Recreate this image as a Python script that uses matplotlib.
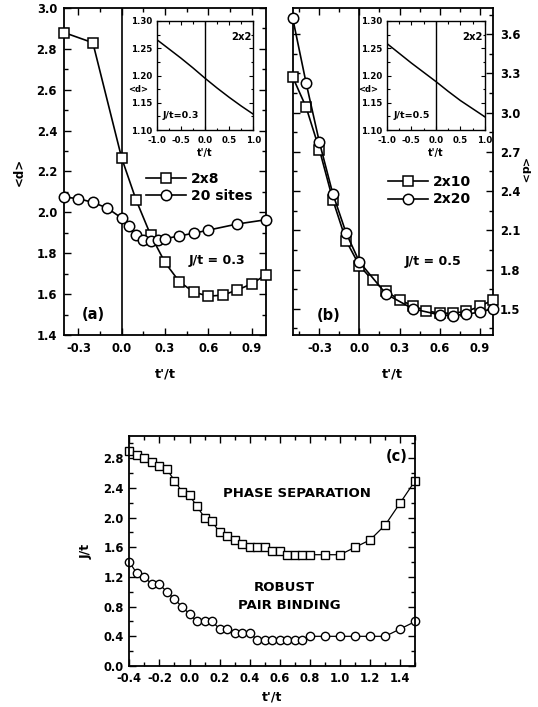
import matplotlib
matplotlib.use('Agg')
import matplotlib.pyplot as plt
from matplotlib.ticker import MultipleLocator, FuncFormatter, FixedLocator

plt.rcParams['font.family'] = ['DejaVu Sans']
plt.rcParams['font.weight'] = 'bold'
plt.rcParams['axes.labelweight'] = 'bold'

# ---------------- data ----------------
# panel (a)
a_sq_x = [-0.4, -0.2, 0.0, 0.1, 0.2, 0.3, 0.4, 0.5, 0.6, 0.7, 0.8, 0.9, 1.0]
a_sq_y = [2.88, 2.83, 2.265, 2.06, 1.89, 1.755, 1.66, 1.61, 1.59, 1.595, 1.62, 1.65, 1.695]
a_ci_x = [-0.4, -0.3, -0.2, -0.1, 0.0, 0.05, 0.1, 0.15, 0.2, 0.25, 0.3, 0.4, 0.5, 0.6, 0.8, 1.0]
a_ci_y = [2.075, 2.067, 2.049, 2.021, 1.972, 1.931, 1.887, 1.866, 1.862, 1.866, 1.871,
          1.885, 1.898, 1.913, 1.943, 1.964]
a_labels = ["2x8", "20 sites"]

# panel (b)
b_sq_x = [-0.5, -0.4, -0.3, -0.2, -0.1, 0.0, 0.1, 0.2, 0.3, 0.4, 0.5, 0.6, 0.7, 0.8, 0.9, 1.0]
b_sq_y = [3.272, 3.043, 2.718, 2.335, 2.021, 1.83, 1.717, 1.633, 1.569, 1.523, 1.485,
          1.467, 1.467, 1.48, 1.518, 1.569]
b_ci_x = [-0.5, -0.4, -0.3, -0.2, -0.1, 0.0, 0.2, 0.4, 0.6, 0.7, 0.8, 0.9, 1.0]
b_ci_y = [3.722, 3.229, 2.774, 2.381, 2.08, 1.858, 1.613, 1.5, 1.454, 1.449, 1.459, 1.475, 1.5]
b_labels = ["2x10", "2x20"]

# insets (2x2)
ins_x = [-1.0, -0.75, -0.5, -0.25, 0.0, 0.25, 0.5, 0.75, 1.0]
ins_a_y = [1.266, 1.249, 1.232, 1.214, 1.195, 1.177, 1.160, 1.144, 1.129]
ins_b_y = [1.259, 1.241, 1.223, 1.206, 1.189, 1.171, 1.154, 1.139, 1.124]

# panel (c)
c_ps_x = [-0.4, -0.35, -0.3, -0.25, -0.2, -0.15, -0.1, -0.05, 0.0, 0.05, 0.1, 0.15, 0.2, 0.25,
          0.3, 0.35, 0.4, 0.45, 0.5, 0.55, 0.6, 0.65, 0.7, 0.75, 0.8, 0.9, 1.0, 1.1, 1.2,
          1.3, 1.4, 1.5]
c_ps_y = [2.9, 2.85, 2.8, 2.75, 2.7, 2.65, 2.5, 2.35, 2.3, 2.15, 2.0, 1.95, 1.8, 1.75,
          1.7, 1.65, 1.6, 1.6, 1.6, 1.55, 1.55, 1.5, 1.5, 1.5, 1.5, 1.5, 1.5, 1.6, 1.7,
          1.9, 2.2, 2.5]
c_pb_x = [-0.4, -0.35, -0.3, -0.25, -0.2, -0.15, -0.1, -0.05, 0.0, 0.05, 0.1, 0.15, 0.2, 0.25,
          0.3, 0.35, 0.4, 0.45, 0.5, 0.55, 0.6, 0.65, 0.7, 0.75, 0.8, 0.9, 1.0, 1.1, 1.2,
          1.3, 1.4, 1.5]
c_pb_y = [1.4, 1.25, 1.2, 1.1, 1.1, 1.0, 0.9, 0.8, 0.7, 0.6, 0.6, 0.6, 0.5, 0.5,
          0.45, 0.45, 0.45, 0.35, 0.35, 0.35, 0.35, 0.35, 0.35, 0.35, 0.4, 0.4, 0.4, 0.4, 0.4,
          0.4, 0.5, 0.6]

# ---------------- figure ----------------
W, H = 538, 707
fig = plt.figure(figsize=(W / 100, H / 100), dpi=100)


def box(l, t, r, b):
    return [l / W, 1 - b / H, (r - l) / W, (b - t) / H]


def fmt(nd):
    def f(v, p):
        s = f"{v:.{nd}f}"
        if s.startswith('-') and float(s) == 0:
            s = s[1:]
        return s
    return FuncFormatter(f)


TICK = 8.3
LW = 1.2
MS = 7


def style_main(ax):
    ax.tick_params(which='both', direction='in', top=True, right=True, width=1.0,
                   labelsize=TICK, pad=5)
    ax.tick_params(which='major', length=5)
    ax.tick_params(which='minor', length=3)
    for s in ax.spines.values():
        s.set_linewidth(1.3)


# ---- panel (a)
axa = fig.add_axes(box(64, 8, 266, 335))
axa.plot(a_sq_x, a_sq_y, '-', color='black', lw=LW, marker='s', ms=MS,
         mfc='white', mec='black', mew=1.1, label=a_labels[0], zorder=3, clip_on=False)
axa.plot(a_ci_x, a_ci_y, '-', color='black', lw=LW, marker='o', ms=MS + 0.5,
         mfc='white', mec='black', mew=1.1, label=a_labels[1], zorder=3, clip_on=False)
axa.axvline(0.0, color='black', lw=1.2, zorder=1)
axa.set_xlim(-0.4, 1.0)
axa.set_ylim(1.4, 3.0)
axa.xaxis.set_major_locator(FixedLocator([-0.3, 0.0, 0.3, 0.6, 0.9]))
axa.xaxis.set_minor_locator(FixedLocator([-0.15, 0.15, 0.45, 0.75]))
axa.yaxis.set_major_locator(MultipleLocator(0.2))
axa.yaxis.set_minor_locator(MultipleLocator(0.1))
axa.xaxis.set_major_formatter(fmt(1))
axa.yaxis.set_major_formatter(fmt(1))
style_main(axa)
axa.set_xlabel("t'/t", fontsize=9.3, fontweight='bold', labelpad=9)
axa.set_ylabel("<d>", fontsize=8.5, fontweight='bold', labelpad=8)
axa.text(0.66, 1.764, "J/t = 0.3", fontsize=9, fontweight='bold', ha='center', va='center')
axa.text(-0.196, 1.498, "(a)", fontsize=10.5, fontweight='bold', ha='center', va='center')
axa.legend(loc='upper left', bbox_to_anchor=(146 / W, 1 - 172 / H),
           bbox_transform=fig.transFigure, frameon=False,
           handlelength=2.9, handletextpad=0.35, labelspacing=0.2,
           borderpad=0, borderaxespad=0, prop={'weight': 'bold', 'size': 10})

# ---- panel (b)
axb = fig.add_axes(box(292.7, 8, 493, 335))
axb.plot(b_sq_x, b_sq_y, '-', color='black', lw=LW, marker='s', ms=MS,
         mfc='white', mec='black', mew=1.1, label=b_labels[0], zorder=3, clip_on=False)
axb.plot(b_ci_x, b_ci_y, '-', color='black', lw=LW, marker='o', ms=MS + 0.5,
         mfc='white', mec='black', mew=1.1, label=b_labels[1], zorder=4, clip_on=False)
axb.axvline(0.0, color='black', lw=1.2, zorder=1)
axb.set_xlim(-0.5, 1.0)
axb.set_ylim(1.3, 3.8)
axb.xaxis.set_major_locator(FixedLocator([-0.3, 0.0, 0.3, 0.6, 0.9]))
axb.xaxis.set_minor_locator(FixedLocator([-0.45, -0.15, 0.15, 0.45, 0.75]))
axb.yaxis.set_major_locator(FixedLocator([1.5, 1.8, 2.1, 2.4, 2.7, 3.0, 3.3, 3.6]))
axb.yaxis.set_minor_locator(FixedLocator([1.35, 1.65, 1.95, 2.25, 2.55, 2.85, 3.15, 3.45, 3.75]))
axb.xaxis.set_major_formatter(fmt(1))
axb.yaxis.set_major_formatter(fmt(1))
style_main(axb)
axb.tick_params(labelleft=False, labelright=True)
axb.yaxis.set_label_position('right')
axb.set_xlabel("t'/t", fontsize=9.3, fontweight='bold', labelpad=9)
axb.set_ylabel("<d>", fontsize=8, fontweight='bold', rotation=270, labelpad=6)
axb.text(0.549, 1.86, "J/t = 0.5", fontsize=9, fontweight='bold', ha='center', va='center')
axb.text(-0.23, 1.446, "(b)", fontsize=10.5, fontweight='bold', ha='center', va='center')
axb.legend(loc='upper left', bbox_to_anchor=(388 / W, 1 - 175 / H),
           bbox_transform=fig.transFigure, frameon=False,
           handlelength=2.9, handletextpad=0.35, labelspacing=0.25,
           borderpad=0, borderaxespad=0, prop={'weight': 'bold', 'size': 10})


# ---- insets
def inset(rect, yv, jtxt):
    ax = fig.add_axes(rect)
    ax.plot(ins_x, yv, '-', color='black', lw=1.1)
    ax.axvline(0.0, color='black', lw=1.0)
    ax.set_xlim(-1.0, 1.0)
    ax.set_ylim(1.10, 1.30)
    ax.xaxis.set_major_locator(FixedLocator([-1.0, -0.5, 0.0, 0.5, 1.0]))
    ax.yaxis.set_major_locator(FixedLocator([1.10, 1.15, 1.20, 1.25, 1.30]))
    ax.xaxis.set_minor_locator(FixedLocator([-0.75, -0.25, 0.25, 0.75]))
    ax.yaxis.set_minor_locator(FixedLocator([1.125, 1.175, 1.225, 1.275]))
    ax.xaxis.set_major_formatter(fmt(1))
    ax.yaxis.set_major_formatter(fmt(2))
    ax.tick_params(which='both', direction='in', top=True, right=True, labelsize=6.2,
                   width=0.8)
    ax.tick_params(axis='x', pad=4.5)
    ax.tick_params(axis='y', pad=3)
    ax.tick_params(which='major', length=3)
    ax.tick_params(which='minor', length=1.8)
    for s in ax.spines.values():
        s.set_linewidth(1.0)
    ax.set_xlabel("t'/t", fontsize=7, fontweight='bold', labelpad=2)
    ax.text(0.75, 1.271, "2x2", fontsize=7.3, fontweight='bold', ha='center', va='center')
    ax.text(-0.5, 1.1275, jtxt, fontsize=6.8, fontweight='bold', ha='center', va='center')
    ax.text(-0.19, 0.367, "<d>", transform=ax.transAxes, fontsize=6, fontweight='bold',
            ha='center', va='center')
    return ax


inset(box(156.7, 21, 253.3, 130), ins_a_y, "J/t=0.3")
inset(box(386.7, 21, 485, 130), ins_b_y, "J/t=0.5")

# ---- panel (c)
axc = fig.add_axes(box(129.3, 436, 415.3, 666))
axc.plot(c_ps_x, c_ps_y, '-', color='black', lw=0.9, marker='s', ms=5.5,
         mfc='white', mec='black', mew=1.0, clip_on=False)
axc.plot(c_pb_x, c_pb_y, '-', color='black', lw=0.9, marker='o', ms=6,
         mfc='white', mec='black', mew=1.0, clip_on=False)
axc.set_xlim(-0.4, 1.5)
axc.set_ylim(0.0, 3.1)
axc.xaxis.set_major_locator(FixedLocator([-0.4, -0.2, 0.0, 0.2, 0.4, 0.6, 0.8, 1.0, 1.2, 1.4]))
axc.xaxis.set_minor_locator(FixedLocator([-0.3, -0.1, 0.1, 0.3, 0.5, 0.7, 0.9, 1.1, 1.3, 1.5]))
axc.yaxis.set_major_locator(FixedLocator([0.0, 0.4, 0.8, 1.2, 1.6, 2.0, 2.4, 2.8]))
axc.yaxis.set_minor_locator(FixedLocator([0.2, 0.6, 1.0, 1.4, 1.8, 2.2, 2.6, 3.0]))
axc.xaxis.set_major_formatter(fmt(1))
axc.yaxis.set_major_formatter(fmt(1))
style_main(axc)
axc.tick_params(axis='x', pad=4)
axc.tick_params(axis='y', pad=4)
axc.set_xlabel("t'/t", fontsize=9, fontweight='bold', labelpad=4)
axc.set_ylabel("J/t", fontsize=9, fontweight='bold', labelpad=8)
axc.text(0.715, 2.32, "PHASE SEPARATION", fontsize=9.5, fontweight='bold', ha='center', va='center')
axc.text(0.633, 1.058, "ROBUST", fontsize=9.5, fontweight='bold', ha='center', va='center')
axc.text(0.66, 0.814, "PAIR BINDING", fontsize=9.5, fontweight='bold', ha='center', va='center')
axc.text(1.377, 2.82, "(c)", fontsize=10.5, fontweight='bold', ha='center', va='center')

fig.savefig('out.png', dpi=100)
